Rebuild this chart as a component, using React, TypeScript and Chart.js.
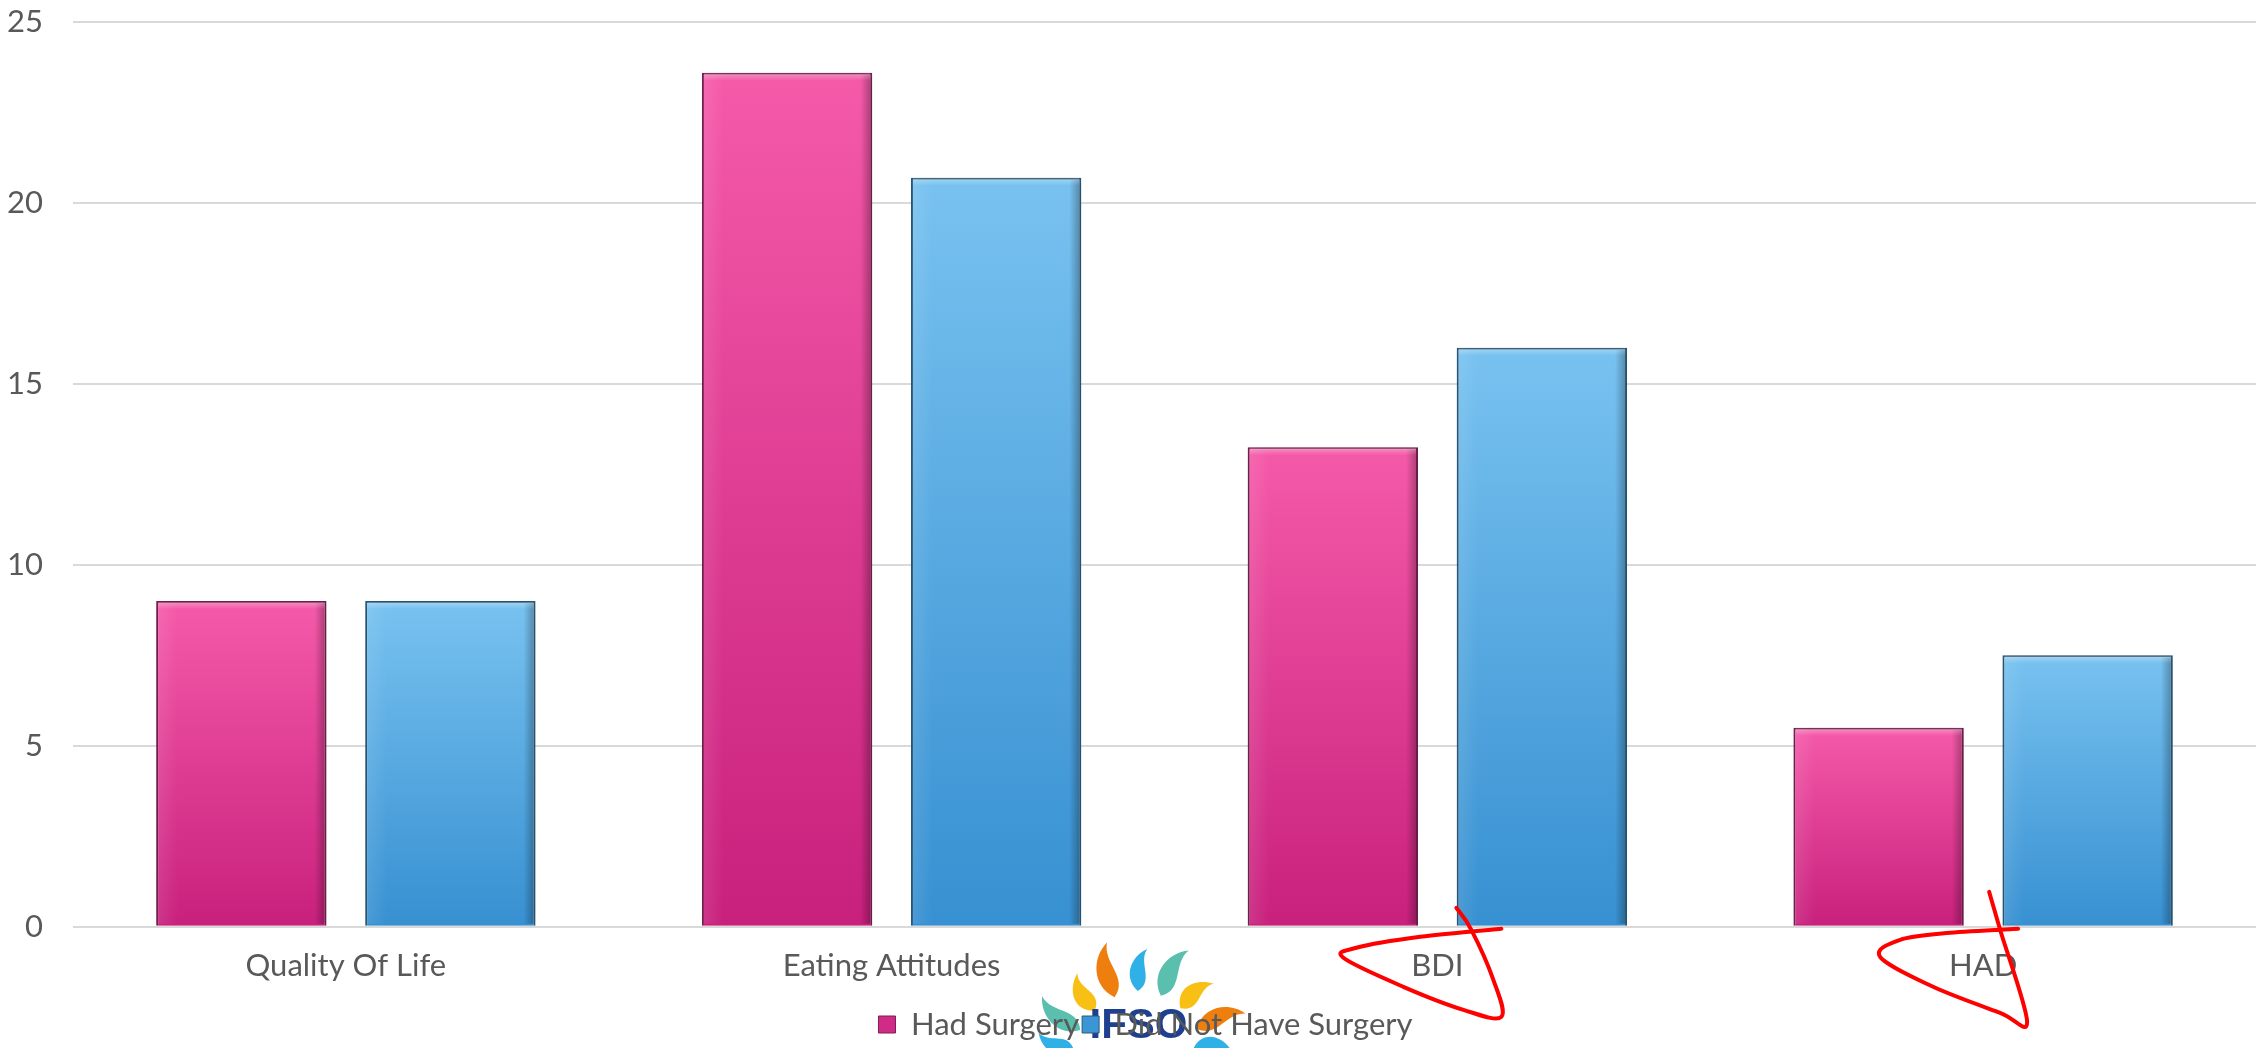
import React, { useEffect, useRef } from "react";
import { Chart, registerables } from "chart.js";

Chart.register(...registerables);

// ---- data ----
const categories = ["Quality Of Life", "Eating Attitudes", "BDI", "HAD"];
const seriesNames = ["Had Surgery", "Did Not Have Surgery"];
const hadSurgery = [9, 23.6, 13.25, 5.5];
const noSurgery = [9, 20.7, 16, 7.5];
const yMin = 0;
const yMax = 25;
const yStep = 5;
const circledCategories = ["BDI", "HAD"];

// ---- styles ----
const W = 2267;
const H = 1048;
const FONT = "Lato, 'Open Sans', sans-serif";
const TEXT = "#595959";
const GRID = "#d9d9d9";
const PINK = { top: "#f55aa9", bottom: "#c8207d", solid: "#d02b86", border: "#7a1f52" };
const BLUE = { top: "#78c2f0", bottom: "#3790d1", solid: "#3c95d4", border: "#2b5b7c" };

function barFill(c: { top: string; bottom: string; solid: string }) {
  return (ctx: any) => {
    const chart = ctx.chart;
    const ys = chart.scales && chart.scales.y;
    if (!ys || ctx.type !== "data" || typeof ctx.raw !== "number") return c.solid;
    const yTop = ys.getPixelForValue(ctx.raw);
    const yBot = ys.getPixelForValue(0);
    if (!isFinite(yTop) || !isFinite(yBot) || yTop === yBot) return c.solid;
    const g = chart.ctx.createLinearGradient(0, yTop, 0, yBot);
    g.addColorStop(0, c.top);
    g.addColorStop(1, c.bottom);
    return g;
  };
}

function smoothPath(ctx: CanvasRenderingContext2D, pts: number[][]) {
  ctx.beginPath();
  ctx.moveTo(pts[0][0], pts[0][1]);
  for (let i = 0; i < pts.length - 1; i++) {
    const p0 = pts[Math.max(0, i - 1)];
    const p1 = pts[i];
    const p2 = pts[i + 1];
    const p3 = pts[Math.min(pts.length - 1, i + 2)];
    const c1x = p1[0] + (p2[0] - p0[0]) / 6;
    const c1y = p1[1] + (p2[1] - p0[1]) / 6;
    const c2x = p2[0] - (p3[0] - p1[0]) / 6;
    const c2y = p2[1] - (p3[1] - p1[1]) / 6;
    ctx.bezierCurveTo(c1x, c1y, c2x, c2y, p2[0], p2[1]);
  }
  ctx.stroke();
}

// hand-drawn loop shapes, relative to (category x, zero line y)
const loopShapes: Record<string, number[][]> = {
  BDI: [[19, -19], [34, 3], [56, 53], [64, 90], [26, 83], [-34, 60], [-94, 31], [-81, 21], [-17, 10], [64, 2]],
  HAD: [[6, -35], [17, 3], [44, 95], [17, 86], [-50, 60], [-103, 30], [-83, 13], [-33, 6], [35, 2]],
};

const decorPlugin = {
  id: "decor",
  afterLayout(chart: any) {
    if (chart.legend) {
      chart.legend.left += 29;
      chart.legend.right += 29;
    }
  },
  beforeDraw(chart: any) {
    const ctx: CanvasRenderingContext2D = chart.ctx;
    ctx.save();
    ctx.fillStyle = "#ffffff";
    ctx.fillRect(0, 0, chart.width, chart.height);
    // IFSO-like logo behind legend
    const ox = chart.width / 2 + 6;
    const oy = chart.height + 14;
    const petals: [number, number, number, number, string][] = [
      [-32, -91, 54, 20, "#ee7f0e"],
      [0, -92, 42, 17, "#2fb0e6"],
      [32, -90, 52, 20, "#5bbfae"],
      [-56, -68, 40, 19, "#f8bf14"],
      [55, -68, 40, 19, "#f8bf14"],
      [-80, -46, 50, 19, "#5bbfae"],
      [80, -44, 50, 19, "#ee7f0e"],
      [-84, -18, 38, 17, "#2fb0e6"],
      [72, -16, 36, 17, "#2fb0e6"],
    ];
    for (const [dx, dy, len, wid, col] of petals) {
      const ang = Math.atan2(dx, -dy);
      ctx.save();
      ctx.translate(ox + dx, oy + dy);
      ctx.rotate(ang);
      ctx.fillStyle = col;
      ctx.beginPath();
      ctx.moveTo(-wid * 0.1, len / 2);
      ctx.bezierCurveTo(wid * 0.9, len / 4, -wid * 0.1, -len / 6, wid * 0.45, -len / 2);
      ctx.bezierCurveTo(-wid * 0.5, -len / 3, -wid * 1.0, len / 6, -wid * 0.1, len / 2);
      ctx.fill();
      ctx.restore();
    }
    ctx.fillStyle = "#1f3f8f";
    ctx.font = "bold 42px 'Liberation Sans', Arial, sans-serif";
    ctx.textAlign = "center";
    ctx.textBaseline = "alphabetic";
    ctx.fillText("IFSO", ox - 1, oy - 24);
    ctx.restore();
  },
  beforeDatasetsDraw(chart: any) {
    const ctx = chart.ctx;
    ctx.save();
    ctx.shadowColor = "rgba(0,0,0,0.22)";
    ctx.shadowBlur = 14;
    ctx.shadowOffsetX = 2;
    ctx.shadowOffsetY = 0;
  },
  afterDatasetsDraw(chart: any) {
    const ctx: CanvasRenderingContext2D = chart.ctx;
    ctx.restore();
    ctx.save();
    chart.data.datasets.forEach((_: any, di: number) => {
      const meta = chart.getDatasetMeta(di);
      meta.data.forEach((bar: any) => {
        const { x, y, base, width } = bar.getProps(["x", "y", "base", "width"], true);
        const l = x - width / 2;
        const r = x + width / 2;
        const gR = ctx.createLinearGradient(r - 12, 0, r, 0);
        gR.addColorStop(0, "rgba(0,0,0,0)");
        gR.addColorStop(1, "rgba(0,0,0,0.32)");
        ctx.fillStyle = gR;
        ctx.fillRect(r - 12, y + 2, 10, base - y - 4);
        const gL = ctx.createLinearGradient(l, 0, l + 22, 0);
        gL.addColorStop(0, "rgba(255,255,255,0.10)");
        gL.addColorStop(1, "rgba(255,255,255,0)");
        ctx.fillStyle = gL;
        ctx.fillRect(l + 2, y + 2, 22, base - y - 4);
        const gT = ctx.createLinearGradient(0, y, 0, y + 8);
        gT.addColorStop(0, "rgba(255,255,255,0.35)");
        gT.addColorStop(1, "rgba(255,255,255,0)");
        ctx.fillStyle = gT;
        ctx.fillRect(l + 2, y + 1, width - 4, 8);
      });
    });
    ctx.restore();
  },
  afterDraw(chart: any) {
    const ctx: CanvasRenderingContext2D = chart.ctx;
    const xs = chart.scales.x;
    const ys = chart.scales.y;
    ctx.save();
    ctx.strokeStyle = "#ff0000";
    ctx.lineWidth = 4;
    ctx.lineJoin = "round";
    ctx.lineCap = "round";
    for (const cat of circledCategories) {
      const idx = categories.indexOf(cat);
      const shape = loopShapes[cat];
      if (idx < 0 || !shape) continue;
      const cx = xs.getPixelForValue(idx);
      const by = ys.getPixelForValue(0);
      smoothPath(ctx, shape.map(([dx, dy]) => [cx + dx, by + dy]));
    }
    ctx.restore();
  },
};

export default function App() {
  const ref = useRef<HTMLCanvasElement | null>(null);
  useEffect(() => {
    if (!ref.current) return;
    const chart = new Chart(ref.current, {
      type: "bar",
      data: {
        labels: categories,
        datasets: [
          {
            label: seriesNames[0],
            data: hadSurgery,
            backgroundColor: barFill(PINK),
            borderColor: PINK.border,
            borderWidth: 2,
            categoryPercentage: 0.766,
            barPercentage: 0.815,
          },
          {
            label: seriesNames[1],
            data: noSurgery,
            backgroundColor: barFill(BLUE),
            borderColor: BLUE.border,
            borderWidth: 2,
            categoryPercentage: 0.766,
            barPercentage: 0.815,
          },
        ],
      },
      options: {
        responsive: false,
        animation: false,
        devicePixelRatio: 1,
        layout: { padding: { left: -23, right: 11, top: 22, bottom: -2 } },
        plugins: {
          title: { display: false },
          tooltip: { enabled: false },
          legend: {
            display: true,
            position: "bottom",
            labels: {
              font: { family: FONT, size: 31 },
              color: TEXT,
              boxWidth: 17,
              boxHeight: 17,
              padding: 3,
              generateLabels: (chart: any) =>
                chart.data.datasets.map((ds: any, i: number) => ({
                  text: ds.label,
                  fillStyle: i === 0 ? PINK.solid : BLUE.solid,
                  strokeStyle: i === 0 ? PINK.border : BLUE.border,
                  lineWidth: 1,
                  hidden: false,
                  datasetIndex: i,
                  fontColor: TEXT,
                })),
            },
          },
        },
        scales: {
          x: {
            grid: { display: false, drawTicks: false },
            border: { display: false },
            ticks: {
              font: { family: FONT, size: 31 },
              color: TEXT,
              padding: 21,
              maxRotation: 0,
            },
          },
          y: {
            min: yMin,
            max: yMax,
            grid: { color: GRID, lineWidth: 2, drawTicks: false },
            border: { display: false },
            ticks: {
              stepSize: yStep,
              font: { family: FONT, size: 31 },
              color: TEXT,
              padding: 30,
            },
            afterFit: (scale: any) => {
              scale.paddingTop = 0;
              scale.paddingBottom = 0;
            },
          },
        },
      },
      plugins: [decorPlugin],
    });
    return () => chart.destroy();
  }, []);
  return (
    <div style={{ position: "fixed", left: 0, top: 0, width: W, height: H, background: "#fff" }}>
      <canvas ref={ref} width={W} height={H} style={{ display: "block" }} />
    </div>
  );
}
